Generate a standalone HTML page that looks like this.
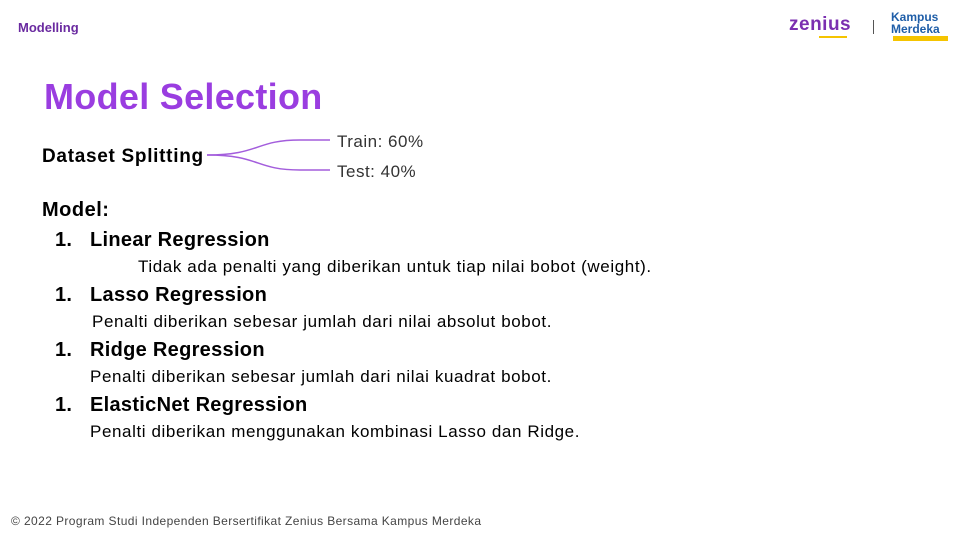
<!DOCTYPE html>
<html><head><meta charset="utf-8">
<style>
body{margin:0;width:960px;height:540px;background:#fff;position:relative;overflow:hidden;font-family:"Liberation Sans",sans-serif;}
.a{position:absolute;white-space:nowrap;line-height:1;}
.h{font-size:20px;font-weight:bold;letter-spacing:0.3px;}
.d{font-size:17px;letter-spacing:0.6px;}
</style></head><body>
<div class="a" style="left:18px;top:21px;font-size:13px;font-weight:bold;color:#6a2aa0;">Modelling</div>
<div class="a" style="left:789px;top:15px;font-size:19px;font-weight:bold;color:#7b2fb0;letter-spacing:0.5px;">zenius<div style="position:absolute;left:30px;top:21px;width:28px;height:2px;background:#f5c400;"></div></div>
<div class="a" style="left:873px;top:20px;width:1px;height:14px;background:#555;"></div>
<div class="a" style="left:891px;top:11px;font-size:12px;font-weight:bold;color:#1f5ea8;line-height:12px;">Kampus<br>Merdeka<div style="position:absolute;left:2px;top:25px;width:55px;height:5px;background:#f5c400;"></div></div>
<div class="a" style="left:44px;top:79px;font-size:36px;font-weight:bold;color:#9a3de0;letter-spacing:0.3px;">Model Selection</div>
<div class="a" style="left:42px;top:147px;font-size:19px;font-weight:bold;color:#000;letter-spacing:0.7px;">Dataset Splitting</div>
<svg class="a" style="left:0;top:0" width="960" height="540">
<path d="M207 155 C260 155 255 140 300 140 L330 140" stroke="#a35ddc" stroke-width="1.5" fill="none"/>
<path d="M207 155 C260 155 255 170 300 170 L330 170" stroke="#a35ddc" stroke-width="1.5" fill="none"/>
</svg>
<div class="a" style="left:337px;top:133px;font-size:17px;color:#333;letter-spacing:0.5px;">Train: 60%</div>
<div class="a" style="left:337px;top:163px;font-size:17px;color:#333;letter-spacing:0.5px;">Test: 40%</div>
<div class="a" style="left:42px;top:200px;font-size:20px;font-weight:bold;color:#000;letter-spacing:0.5px;">Model:</div>
<div class="a h" style="left:55px;top:230px;">1.</div>
<div class="a h" style="left:90px;top:230px;">Linear Regression</div>
<div class="a d" style="left:138px;top:258px;">Tidak ada penalti yang diberikan untuk tiap nilai bobot (weight).</div>
<div class="a h" style="left:55px;top:285px;">1.</div>
<div class="a h" style="left:90px;top:285px;">Lasso Regression</div>
<div class="a d" style="left:92px;top:313px;">Penalti diberikan sebesar jumlah dari nilai absolut bobot.</div>
<div class="a h" style="left:55px;top:340px;">1.</div>
<div class="a h" style="left:90px;top:340px;">Ridge Regression</div>
<div class="a d" style="left:90px;top:368px;">Penalti diberikan sebesar jumlah dari nilai kuadrat bobot.</div>
<div class="a h" style="left:55px;top:395px;">1.</div>
<div class="a h" style="left:90px;top:395px;">ElasticNet Regression</div>
<div class="a d" style="left:90px;top:423px;">Penalti diberikan menggunakan kombinasi Lasso dan Ridge.</div>
<div class="a" style="left:11px;top:515px;font-size:12px;color:#444;letter-spacing:0.4px;">© 2022 Program Studi Independen Bersertifikat Zenius Bersama Kampus Merdeka</div>
</body></html>
